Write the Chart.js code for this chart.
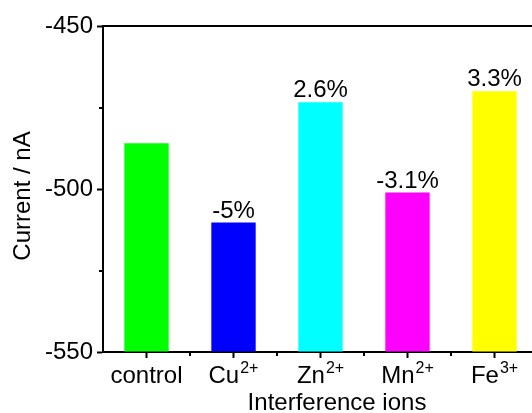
<!DOCTYPE html>
<html>
<head>
<meta charset="utf-8">
<script src="https://cdn.jsdelivr.net/npm/chart.js@4"></script>
<style>
  html, body { margin: 0; padding: 0; background: #fff; overflow: hidden; }
  #wrap { width: 540px; height: 413px; }
</style>
</head>
<body>
<div id="wrap"><canvas id="ionChart"></canvas></div>
<script>
// Data
const ions = ['control', 'Cu', 'Zn', 'Mn', 'Fe']
const charges = ['', '2+', '2+', '2+', '3+']
const currents = [-486, -510.3, -473.4, -501.1, -470]
const changes = ['', '-5%', '2.6%', '-3.1%', '3.3%']
const barColors = ['#00ff00', '#0000ff', '#00ffff', '#ff00ff', '#ffff00']
const yMinorTicks = [-525, -475]
const xTitle = 'Interference ions'
const yTitle = 'Current / nA'

const FONT = '"Liberation Sans", Arial, sans-serif'

// top frame line, minor ticks, ion labels with charges, percent labels, axis titles
const decorations = {
  id: 'decorations',
  afterDraw(chart) {
    const { ctx, chartArea, scales } = chart
    const xs = scales.x
    const ys = scales.y
    ctx.save()
    ctx.strokeStyle = '#000'
    ctx.lineWidth = 2
    ctx.beginPath()
    ctx.moveTo(chartArea.left - 1, chartArea.top)
    ctx.lineTo(chartArea.right, chartArea.top)
    ctx.stroke()

    ctx.beginPath()
    yMinorTicks.forEach((v) => {
      const y = Math.round(ys.getPixelForValue(v))
      ctx.moveTo(chartArea.left - 4, y)
      ctx.lineTo(chartArea.left, y)
    })
    const step = (chartArea.right - chartArea.left) / ions.length
    for (let i = 1; i < ions.length; i++) {
      const x = Math.round(chartArea.left + step * i)
      ctx.moveTo(x, chartArea.bottom)
      ctx.lineTo(x, chartArea.bottom + 4)
    }
    ctx.stroke()

    // category labels
    ctx.fillStyle = '#000'
    ctx.textBaseline = 'alphabetic'
    ions.forEach((name, i) => {
      const cx = xs.getPixelForValue(i)
      ctx.font = '24px ' + FONT
      const w1 = ctx.measureText(name).width
      ctx.font = '16px ' + FONT
      const w2 = charges[i] ? ctx.measureText(charges[i]).width + 1 : 0
      const x0 = cx - (w1 + w2) / 2
      ctx.textAlign = 'left'
      ctx.font = '24px ' + FONT
      ctx.fillText(name, x0, chartArea.bottom + 31)
      if (charges[i]) {
        ctx.font = '16px ' + FONT
        ctx.fillText(charges[i], x0 + w1 + 1, chartArea.bottom + 21)
      }
    })

    // percent change labels
    const meta = chart.getDatasetMeta(0)
    ctx.font = '24px ' + FONT
    ctx.textAlign = 'center'
    meta.data.forEach((bar, i) => {
      if (changes[i]) ctx.fillText(changes[i], bar.x, bar.y - 5)
    })

    // axis titles
    ctx.fillText(xTitle, 337, chartArea.bottom + 58)
    ctx.translate(30, 196)
    ctx.rotate(-Math.PI / 2)
    ctx.fillText(yTitle, 0, 0)
    ctx.restore()
  }
}

const ctx = document.getElementById('ionChart').getContext('2d')

const ionChart = new Chart(ctx, {
  type: 'bar',
  data: {
    labels: ions,
    datasets: [
      {
        data: currents,
        base: -550,
        backgroundColor: barColors,
        borderWidth: 0,
        barPercentage: 0.51,
        categoryPercentage: 1,
      },
    ],
  },
  options: {
    responsive: true,
    maintainAspectRatio: false,
    animation: false,
    layout: { padding: { top: 26, right: 2, left: 0, bottom: 0 } },
    plugins: {
      legend: { display: false },
      tooltip: { enabled: false },
    },
    scales: {
      x: {
        offset: true,
        afterFit: (scale) => { scale.height = 61 },
        grid: {
          offset: false,
          drawOnChartArea: false,
          tickLength: 6,
          tickWidth: 2,
          color: '#000',
        },
        border: { color: '#000', width: 2 },
        ticks: { callback: () => '', font: { size: 1 } },
      },
      y: {
        min: -550,
        max: -450,
        afterFit: (scale) => { scale.width = 103 },
        grid: {
          drawOnChartArea: false,
          tickLength: 6,
          tickWidth: 2,
          color: '#000',
        },
        border: { color: '#000', width: 2 },
        ticks: {
          stepSize: 50,
          color: '#000',
          padding: 4,
          font: { family: FONT, size: 24 },
        },
      },
    },
  },
  plugins: [decorations],
})
</script>
</body>
</html>
